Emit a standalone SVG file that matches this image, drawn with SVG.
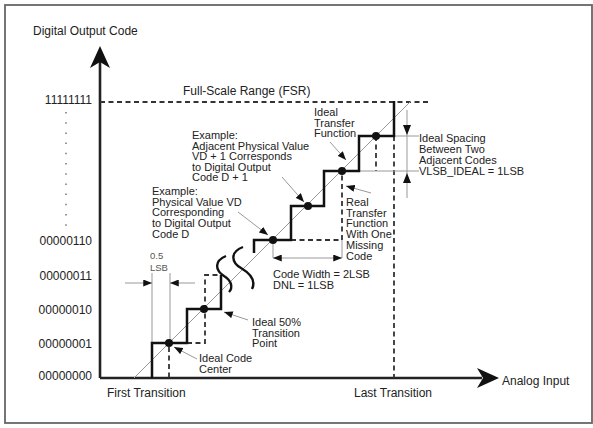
<svg xmlns="http://www.w3.org/2000/svg" width="593" height="428" viewBox="0 0 593 428">
<style>
text{font-family:"Liberation Sans",Arial,sans-serif;fill:#222}
.l{font-size:12px}
.s{font-size:11px}
.t{font-size:9.5px;fill:#555}
.ax{stroke:#222;stroke-width:2.6;fill:none}
.st{stroke:#111;stroke-width:2.5;fill:none;stroke-linejoin:miter}
.da{stroke:#333;stroke-width:1.8;fill:none;stroke-dasharray:5 3.5}
.th{stroke:#999;stroke-width:1;fill:none}
.ld{stroke:#999;stroke-width:1;fill:none;marker-end:url(#ah)}
.dot{fill:#111}
</style>
<defs>
<marker id="ah" viewBox="0 0 10 8" refX="10" refY="4" markerWidth="9" markerHeight="7" markerUnits="userSpaceOnUse" orient="auto-start-reverse">
<path d="M0,0 L10,4 L0,8 z" fill="#111"/>
</marker>
</defs>
<rect x="5" y="5" width="587" height="418" fill="#fff" stroke="#666" stroke-width="1.8"/>

<g id="axes">
<line class="ax" x1="100" y1="62" x2="100" y2="378"/>
<path d="M100,46 L110,68 L100,62 L90,68 z" fill="#111"/>
<line class="ax" x1="100" y1="378" x2="482" y2="378"/>
<path d="M499,378 L477,368 L483,378 L477,388 z" fill="#111"/>
<text class="l" x="33" y="35">Digital Output Code</text>
<text class="l" x="502" y="385">Analog Input</text>
<text class="l" x="107" y="397">First Transition</text>
<text class="l" x="354" y="397">Last Transition</text>
</g>

<g id="ylabels" text-anchor="end">
<text class="l" x="92" y="104">11111111</text>
<text class="l" x="92" y="245">00000110</text>
<text class="l" x="92" y="280">00000011</text>
<text class="l" x="92" y="314">00000010</text>
<text class="l" x="92" y="348">00000001</text>
<text class="l" x="92" y="380">00000000</text>
</g>
<line x1="66" y1="112" x2="66" y2="226" stroke="#777" stroke-width="1.5" stroke-dasharray="1.5 8.7"/>

<g id="fsr">
<line class="da" x1="100" y1="102" x2="428" y2="102"/>
<text class="l" x="183" y="95">Full-Scale Range (FSR)</text>
</g>

<g id="connectors">
<line class="th" x1="134" y1="378" x2="411" y2="101"/>
<path class="da" d="M169,347 V378"/>
<path class="da" d="M187,343 H205 V275 H221"/>
<path class="da" d="M291,240 H342 V171"/>
<path class="da" d="M376,136 V171"/>
<path class="da" d="M394,136 V378"/>
<line class="th" x1="152" y1="273" x2="152" y2="343"/>
<line class="th" x1="170" y1="273" x2="170" y2="343"/>
<line class="ld" x1="125" y1="283" x2="152" y2="283"/>
<line class="ld" x1="195" y1="283" x2="170" y2="283"/>
<line class="th" x1="273" y1="240" x2="273" y2="258"/>
<line class="th" x1="342" y1="240" x2="342" y2="258"/>
<line x1="273" y1="258" x2="342" y2="258" stroke="#999" stroke-width="1" marker-start="url(#ah)" marker-end="url(#ah)"/>
<line class="th" x1="394" y1="136" x2="419" y2="136"/>
<line class="th" x1="359" y1="171" x2="419" y2="171"/>
<line class="th" x1="407" y1="110" x2="407" y2="198"/>
<path d="M403,125 L411,125 L407,135 z" fill="#111"/>
<path d="M403,183 L411,183 L407,173 z" fill="#111"/>
<line class="ld" x1="282" y1="177" x2="304" y2="202"/>
<line class="ld" x1="238" y1="212" x2="268" y2="235"/>
<line class="ld" x1="330" y1="142" x2="346" y2="160"/>
<line class="ld" x1="371" y1="193" x2="346" y2="186"/>
<line class="ld" x1="248" y1="320" x2="224" y2="312"/>
<line class="ld" x1="197" y1="359" x2="174" y2="347"/>
</g>

<g id="staircase">
<path class="st" d="M152,378 V343 H187 V309 H221 V275"/>
<path class="st" d="M254,253 V240 H291 V206 H324 V171 H359 V136 H394 V101"/>
<path d="M226,256 C214,261 215,270 224,276 C232,281 233,288 229,292" stroke="#111" stroke-width="2.4" fill="none"/>
<path d="M243,247 C230,252 231,262 241,268 C251,274 256,281 252,289" stroke="#111" stroke-width="2.4" fill="none"/>
<circle class="dot" cx="169" cy="343" r="4"/>
<circle class="dot" cx="204" cy="309" r="4"/>
<circle class="dot" cx="273" cy="240" r="4"/>
<circle class="dot" cx="308" cy="206" r="4"/>
<circle class="dot" cx="342" cy="171" r="4"/>
<circle class="dot" cx="376" cy="136" r="4"/>
</g>

<g id="label-adjacent">
<text class="s" x="192" y="139">Example:<tspan x="192" dy="10.6">Adjacent Physical Value</tspan><tspan x="192" dy="10.6">VD + 1 Corresponds</tspan><tspan x="192" dy="10.6">to Digital Output</tspan><tspan x="192" dy="10.6">Code D + 1</tspan></text>
</g>
<g id="label-example">
<text class="s" x="152" y="195">Example:<tspan x="152" dy="10.7">Physical Value VD</tspan><tspan x="152" dy="10.7">Corresponding</tspan><tspan x="152" dy="10.7">to Digital Output</tspan><tspan x="152" dy="10.7">Code D</tspan></text>
</g>
<g id="label-ideal-tf">
<text class="s" x="314" y="116">Ideal<tspan x="314" dy="10.6">Transfer</tspan><tspan x="314" dy="10.6">Function</tspan></text>
</g>
<g id="label-spacing">
<text class="s" x="419" y="142">Ideal Spacing<tspan x="419" dy="11">Between Two</tspan><tspan x="419" dy="11">Adjacent Codes</tspan><tspan x="419" dy="11">VLSB_IDEAL = 1LSB</tspan></text>
</g>
<g id="label-real">
<text class="s" x="346" y="206">Real<tspan x="346" dy="10.7">Transfer</tspan><tspan x="346" dy="10.7">Function</tspan><tspan x="346" dy="10.7">With One</tspan><tspan x="346" dy="10.7">Missing</tspan><tspan x="346" dy="10.7">Code</tspan></text>
</g>
<g id="label-codewidth">
<text class="s" x="273" y="278">Code Width = 2LSB<tspan x="273" dy="10.5">DNL = 1LSB</tspan></text>
</g>
<g id="label-50">
<text class="s" x="252" y="326">Ideal 50%<tspan x="252" dy="10.5">Transition</tspan><tspan x="252" dy="10.5">Point</tspan></text>
</g>
<g id="label-center">
<text class="s" x="199" y="362">Ideal Code<tspan x="199" dy="11">Center</tspan></text>
</g>
<g id="label-lsb">
<text class="t" x="150" y="259">0.5<tspan x="150" dy="12">LSB</tspan></text>
</g>
</svg>
